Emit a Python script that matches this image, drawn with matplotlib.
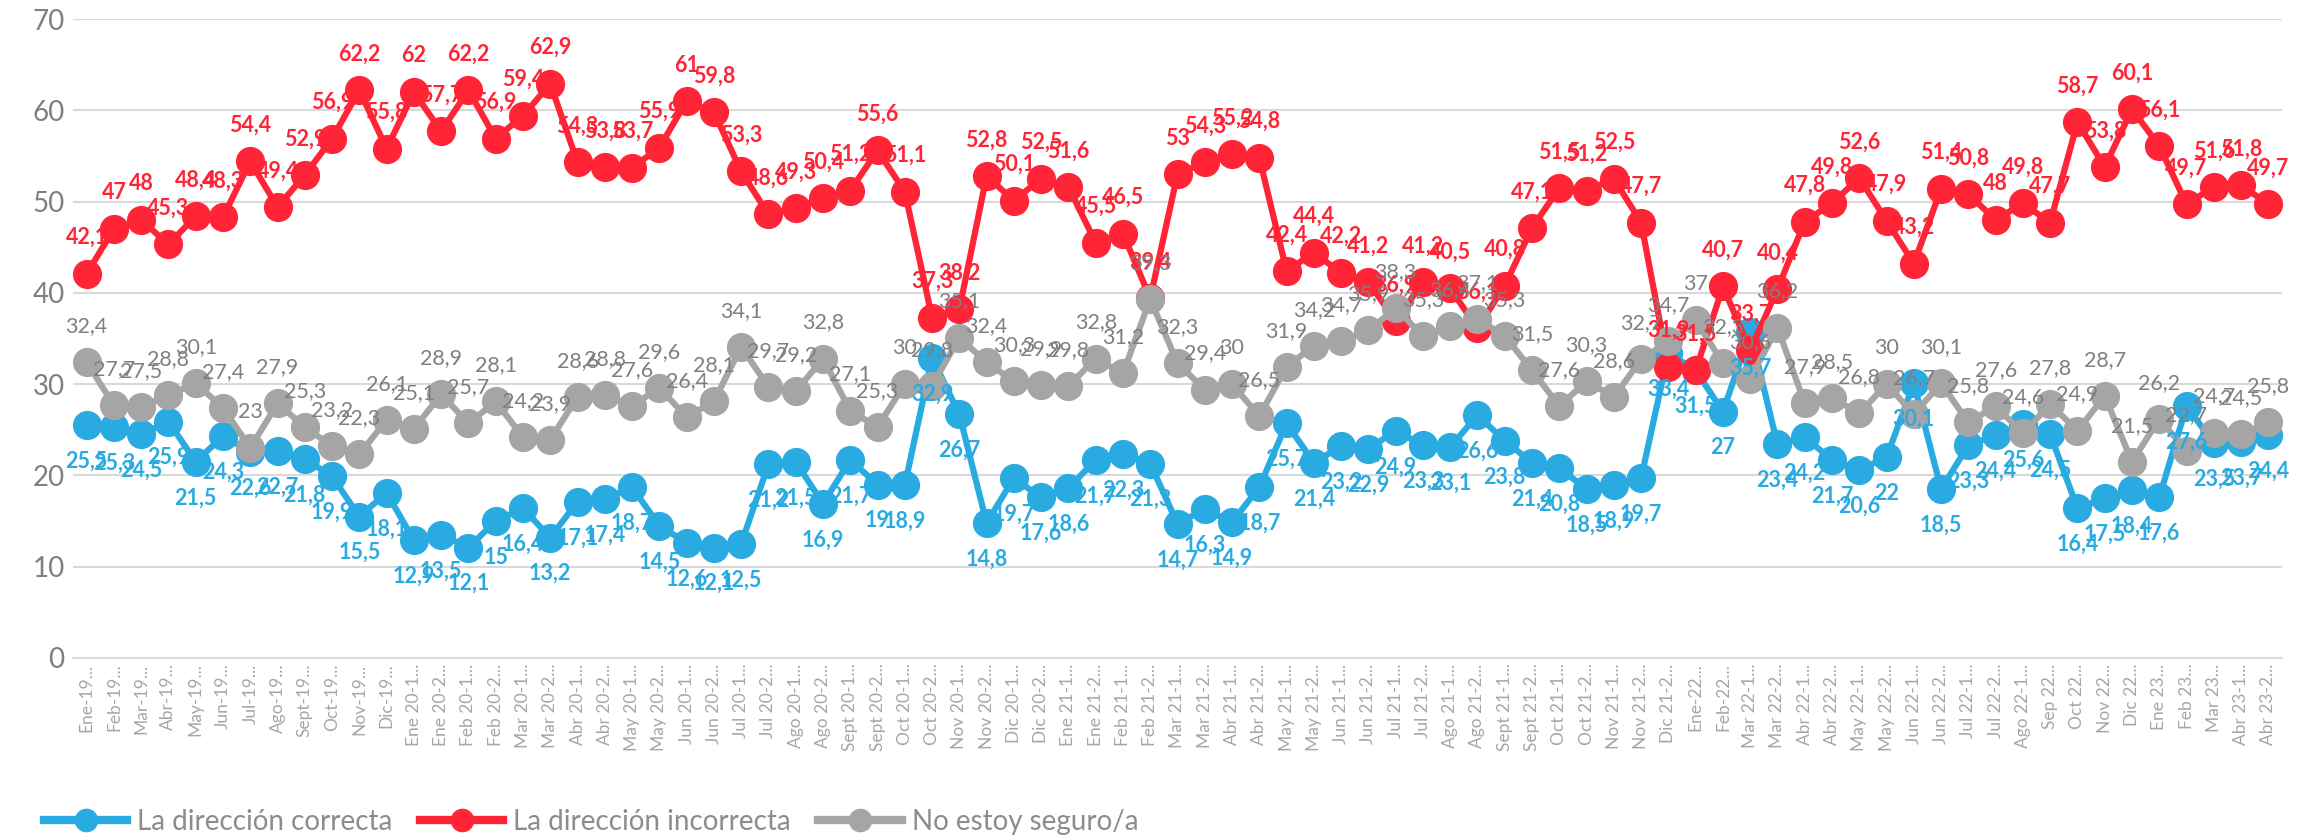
import matplotlib
matplotlib.use("Agg")
import matplotlib.pyplot as plt
from matplotlib.lines import Line2D

plt.rcParams['font.family'] = ['Lato', 'DejaVu Sans']

categories = ["Ene-19...", "Feb-19...", "Mar-19...", "Abr-19...", "May-19...", "Jun-19...", "Jul-19...",
              "Ago-19...", "Sept-19...", "Oct-19...", "Nov-19...", "Dic-19...", "Ene 20-1...", "Ene 20-2...",
              "Feb 20-1...", "Feb 20-2...", "Mar 20-1...", "Mar 20-2...", "Abr 20-1...", "Abr 20-2...",
              "May 20-1...", "May 20-2...", "Jun 20-1...", "Jun 20-2...", "Jul 20-1...", "Jul 20-2...",
              "Ago 20-1...", "Ago 20-2...", "Sept 20-1...", "Sept 20-2...", "Oct 20-1...", "Oct 20-2...",
              "Nov 20-1...", "Nov 20-2...", "Dic 20-1...", "Dic 20-2...", "Ene 21-1...", "Ene 21-2...",
              "Feb 21-1...", "Feb 21-2...", "Mar 21-1...", "Mar 21-2...", "Abr 21-1...", "Abr 21-2...",
              "May 21-1...", "May 21-2...", "Jun 21-1...", "Jun 21-2...", "Jul 21-1...", "Jul 21-2...",
              "Ago 21-1...", "Ago 21-2...", "Sept 21-1...", "Sept 21-2...", "Oct 21-1...", "Oct 21-2...",
              "Nov 21-1...", "Nov 21-2...", "Dic 21-2...", "Ene-22...", "Feb-22...", "Mar 22-1...",
              "Mar 22-2...", "Abr 22-1...", "Abr 22-2...", "May 22-1...", "May 22-2...", "Jun 22-1...",
              "Jun 22-2...", "Jul 22-1...", "Jul 22-2...", "Ago 22-1...", "Sep 22...", "Oct 22...",
              "Nov 22...", "Dic 22...", "Ene 23...", "Feb 23...", "Mar 23...", "Abr 23-1...", "Abr 23-2..."]

correcta = [25.5, 25.3, 24.5, 25.9, 21.5, 24.3, 22.6, 22.7, 21.8, 19.9,
            15.5, 18.1, 12.9, 13.5, 12.1, 15, 16.4, 13.2, 17.1, 17.4,
            18.7, 14.5, 12.6, 12.1, 12.5, 21.2, 21.5, 16.9, 21.7, 19,
            18.9, 32.9, 26.7, 14.8, 19.7, 17.6, 18.6, 21.7, 22.3, 21.3,
            14.7, 16.3, 14.9, 18.7, 25.7, 21.4, 23.2, 22.9, 24.9, 23.3,
            23.1, 26.6, 23.8, 21.4, 20.8, 18.5, 18.9, 19.7, 33.4, 31.5,
            27, 35.7, 23.4, 24.2, 21.7, 20.6, 22, 30.1, 18.5, 23.3,
            24.4, 25.6, 24.5, 16.4, 17.5, 18.4, 17.6, 27.6, 23.5, 23.7,
            24.4]

incorrecta = [42.1, 47, 48, 45.3, 48.4, 48.3, 54.4, 49.4, 52.9, 56.9,
              62.2, 55.8, 62, 57.7, 62.2, 56.9, 59.4, 62.9, 54.3, 53.8,
              53.7, 55.9, 61, 59.8, 53.3, 48.6, 49.3, 50.4, 51.2, 55.6,
              51.1, 37.3, 38.2, 52.8, 50.1, 52.5, 51.6, 45.5, 46.5, 39.4,
              53, 54.3, 55.2, 54.8, 42.4, 44.4, 42.2, 41.2, 36.9, 41.2,
              40.5, 36.1, 40.8, 47.1, 51.5, 51.2, 52.5, 47.7, 31.9, 31.5,
              40.7, 33.7, 40.4, 47.8, 49.8, 52.6, 47.9, 43.2, 51.4, 50.8,
              48, 49.8, 47.7, 58.7, 53.8, 60.1, 56.1, 49.7, 51.6, 51.8,
              49.7]

no_seguro = [32.4, 27.7, 27.5, 28.8, 30.1, 27.4, 23, 27.9, 25.3, 23.2,
             22.3, 26.1, 25.1, 28.9, 25.7, 28.1, 24.2, 23.9, 28.6, 28.8,
             27.6, 29.6, 26.4, 28.1, 34.1, 29.7, 29.2, 32.8, 27.1, 25.3,
             30, 29.8, 35.1, 32.4, 30.3, 29.9, 29.8, 32.8, 31.2, 39.3,
             32.3, 29.4, 30, 26.5, 31.9, 34.2, 34.7, 35.9, 38.3, 35.3,
             36.4, 37.1, 35.3, 31.5, 27.6, 30.3, 28.6, 32.7, 34.7, 37,
             32.3, 30.6, 36.2, 27.9, 28.5, 26.8, 30, 26.7, 30.1, 25.8,
             27.6, 24.6, 27.8, 24.9, 28.7, 21.5, 26.2, 22.7, 24.7, 24.5,
             25.8]

series_names = ["La dirección correcta", "La dirección incorrecta", "No estoy seguro/a"]
yticks = [0, 10, 20, 30, 40, 50, 60, 70]

BLUE = "#29ABE2"
RED = "#FF2537"
GREY = "#A5A5A5"
GREY_TXT = "#7F7F7F"

fig = plt.figure(figsize=(23.13, 8.40), dpi=100)
ax = fig.add_axes([73 / 2313, 1 - 658 / 840, (2282 - 73) / 2313, (658 - 19) / 840])

x = list(range(len(categories)))

ax.plot(x, correcta, color=BLUE, lw=4.5, marker='o', markersize=20, zorder=3, solid_capstyle='round')
ax.plot(x, incorrecta, color=RED, lw=4.5, marker='o', markersize=20, zorder=4, solid_capstyle='round')
ax.plot(x, no_seguro, color=GREY, lw=4.5, marker='o', markersize=20, zorder=5, solid_capstyle='round')


def fmt(v):
    return f"{v:g}".replace('.', ',')


for xi, v in zip(x, correcta):
    ax.annotate(fmt(v), (xi, v), xytext=(0, -26), textcoords='offset points', ha='center', va='center',
                color=BLUE, fontsize=15.5, fontweight='bold', zorder=10)
for xi, v in zip(x, incorrecta):
    ax.annotate(fmt(v), (xi, v), xytext=(0, 26), textcoords='offset points', ha='center', va='center',
                color=RED, fontsize=15.5, fontweight='bold', zorder=10)
for xi, v in zip(x, no_seguro):
    ax.annotate(fmt(v), (xi, v), xytext=(0, 26), textcoords='offset points', ha='center', va='center',
                color=GREY_TXT, fontsize=15.5, zorder=10)

ax.set_xlim(-0.5, len(categories) - 0.5)
ax.set_ylim(0, 70)
ax.set_yticks(yticks)
ax.set_yticklabels([str(t) for t in yticks], fontsize=20, color=GREY_TXT)
ax.set_xticks(x)
ax.set_xticklabels(categories, rotation=90, fontsize=12.5, color="#A6A6A6", va='top', ha='center')
ax.tick_params(axis='both', length=0)
ax.tick_params(axis='x', pad=4)
ax.tick_params(axis='y', pad=6)
ax.yaxis.grid(True, color="#D9D9D9", lw=1.5)
ax.set_axisbelow(True)
for s in ['top', 'right', 'left']:
    ax.spines[s].set_visible(False)
ax.spines['bottom'].set_color("#D9D9D9")
ax.spines['bottom'].set_linewidth(1.5)

handles = [Line2D([], [], color=c, lw=6, marker='o', markersize=16) for c in (BLUE, RED, GREY)]
leg = fig.legend(handles, series_names, loc='center left', bbox_to_anchor=(0.019, 1 - 822 / 840),
                 ncol=3, frameon=False, handlelength=3.0, handletextpad=0.35,
                 columnspacing=1.0, borderaxespad=0, borderpad=0,
                 prop={'family': ['Lato', 'DejaVu Sans'], 'size': 20})
for t in leg.get_texts():
    t.set_color("#8C8C8C")

fig.savefig("out.png", dpi=100)
